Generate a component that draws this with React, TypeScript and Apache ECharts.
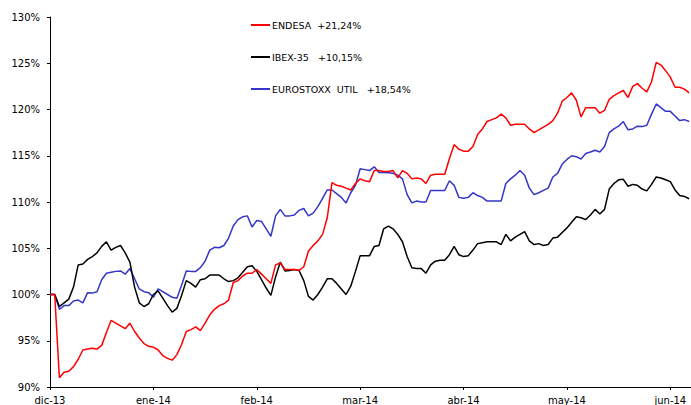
import React, { useEffect, useRef } from "react";
import * as echarts from "echarts";

const monthLabels = ["dic-13", "ene-14", "feb-14", "mar-14", "abr-14", "may-14", "jun-14"];
const daysPerMonth = 22;

const seriesNames = ["ENDESA\u00A0\u00A0+21,24%", "IBEX-35\u00A0\u00A0\u00A0+10,15%", "EUROSTOXX\u00A0\u00A0UTIL\u00A0\u00A0\u00A0+18,54%"];
const seriesColors = ["#FF0000", "#000000", "#3535C8"];

const endesa = [
  100, 100, 91.0, 91.6, 91.7, 92.2, 93.0, 94.0, 94.1, 94.2,
  94.1, 94.5, 95.9, 97.2, 96.9, 96.6, 96.3, 96.9, 96.0, 95.3,
  94.7, 94.4, 94.3, 94.0, 93.4, 93.1, 92.9, 93.5, 94.6, 96.0,
  96.2, 96.5, 96.1, 96.9, 97.8, 98.4, 98.8, 99.0, 99.4, 101.3,
  101.5, 102.0, 102.3, 102.3, 102.7, 102.2, 101.7, 101.2, 103.2, 103.4,
  102.7, 102.7, 102.7, 102.6, 103.0, 104.7, 105.3, 105.8, 106.5, 108.3,
  112.1, 111.8, 111.7, 111.5, 111.3, 112.0, 112.5, 112.3, 112.2, 113.4,
  113.4, 113.3, 113.3, 113.4, 112.6, 113.4, 113.1, 112.5, 112.6, 112.5,
  112.0, 112.9, 113.0, 113.0, 113.0, 114.7, 116.2, 115.7, 115.5, 115.5,
  116.0, 117.3, 117.9, 118.7, 118.9, 119.1, 119.5, 119.1, 118.3, 118.4,
  118.4, 118.4, 117.9, 117.5, 117.8, 118.1, 118.4, 118.8, 119.6, 120.9,
  121.3, 121.8, 121.0, 119.2, 120.2, 120.2, 120.2, 119.6, 119.9, 121.1,
  121.5, 121.8, 122.05, 121.3, 122.5, 122.8, 122.3, 121.9, 123.0, 125.1,
  124.8, 124.2, 123.5, 122.4, 122.4, 122.2, 121.8,
];

const ibex = [
  100, 100, 98.7, 99.1, 99.5, 100.8, 103.2, 103.3, 103.8, 104.1,
  104.5, 105.2, 105.7, 104.8, 105.1, 105.3, 104.5, 103.5, 100.8, 99.1,
  98.7, 99.0, 100.0, 100.4, 99.6, 98.8, 98.1, 98.5, 99.9, 101.5,
  101.2, 100.8, 101.6, 101.7, 102.1, 102.1, 102.1, 101.7, 101.4, 101.5,
  101.8, 102.4, 103.0, 103.1, 102.5, 101.6, 100.7, 99.9, 101.9, 103.5,
  102.55, 102.6, 102.7, 102.6, 101.5, 99.8, 99.4, 100.0, 100.8, 101.7,
  101.7, 101.2, 100.6, 100.0, 100.9, 102.5, 104.2, 104.2, 104.2, 105.2,
  105.3, 107.1, 107.4, 107.1, 106.5, 105.7, 104.1, 102.9, 102.8, 102.8,
  102.3, 103.2, 103.6, 103.7, 103.7, 104.3, 105.2, 104.3, 104.1, 104.2,
  104.8, 105.5, 105.6, 105.7, 105.7, 105.7, 105.4, 106.5, 105.8, 106.2,
  106.5, 106.8, 105.8, 105.4, 105.5, 105.3, 105.4, 106.1, 106.2, 106.7,
  107.2, 107.8, 108.4, 108.3, 108.1, 108.6, 109.2, 108.7, 109.2, 111.4,
  112.0, 112.4, 112.45, 111.7, 111.9, 111.8, 111.4, 111.2, 111.9, 112.7,
  112.6, 112.4, 112.2, 111.3, 110.7, 110.6, 110.35,
];

const eurostoxx = [
  100, 100, 98.4, 98.8, 98.8, 99.3, 99.4, 99.1, 100.2, 100.15,
  100.3, 101.6, 102.3, 102.4, 102.5, 102.55, 102.2, 102.8, 101.7, 100.6,
  100.3, 100.2, 99.7, 100.6, 100.3, 100.0, 99.7, 99.6, 101.0, 102.55,
  102.5, 102.5, 102.9, 103.6, 104.8, 105.1, 105.05, 105.3, 106.1, 107.4,
  108.1, 108.4, 108.5, 107.3, 108.0, 107.9, 107.1, 106.3, 108.5, 109.2,
  108.5, 108.5, 108.6, 109.1, 109.3, 108.5, 108.8, 109.5, 110.4, 111.3,
  111.3, 110.9, 110.5, 109.9, 111.0, 111.8, 113.6, 113.5, 113.4, 113.8,
  113.2, 113.2, 113.15, 113.1, 112.9, 112.5, 110.8, 109.9, 110.1, 110.0,
  110.0, 111.25, 111.25, 111.25, 111.25, 112.3, 111.8, 110.5, 110.4, 110.5,
  111.0, 110.7, 110.5, 110.1, 110.1, 110.1, 110.1, 112.0, 112.5, 112.9,
  113.4, 112.9, 111.5, 110.8, 111.0, 111.25, 111.5, 112.7, 113.1, 114.1,
  114.6, 115.0, 114.9, 114.65, 115.25, 115.4, 115.6, 115.4, 116.0, 117.5,
  117.9, 118.2, 118.7, 117.8, 117.9, 118.2, 118.15, 118.3, 119.5, 120.6,
  120.2, 119.8, 119.8, 119.3, 118.8, 118.9, 118.7,
];

const allSeries = [endesa, ibex, eurostoxx];

export default function App() {
  const ref = useRef<HTMLDivElement>(null);

  useEffect(() => {
    if (!ref.current) return;
    const chart = echarts.init(ref.current, null, { renderer: "svg" });
    const font = "DejaVu Sans";

    const legendGraphics: any[] = [];
    const legendTop = [25, 57, 89];
    seriesNames.forEach((name, i) => {
      legendGraphics.push({
        type: "line",
        shape: { x1: 251, y1: legendTop[i], x2: 270, y2: legendTop[i] },
        style: { stroke: seriesColors[i], lineWidth: 2 },
      });
      legendGraphics.push({
        type: "text",
        x: 272,
        y: legendTop[i],
        style: {
          text: name,
          fill: "#000",
          fontSize: 9.5,
          fontFamily: font,
          verticalAlign: "middle",
        },
      });
    });

    chart.setOption({
      animation: false,
      backgroundColor: "#fff",
      grid: { left: 50, top: 17, right: 0, bottom: 17, containLabel: false },
      xAxis: {
        type: "value",
        min: 0,
        max: 136.4,
        interval: daysPerMonth,
        axisLine: { show: true, lineStyle: { color: "#000", width: 1 } },
        axisTick: { show: true, length: 3, lineStyle: { color: "#000" } },
        splitLine: { show: false },
        axisLabel: {
          color: "#000",
          fontFamily: font,
          fontSize: 10,
          margin: 8,
          showMaxLabel: false,
          formatter: (v: number) => {
            const k = v / daysPerMonth;
            return Number.isInteger(k) && monthLabels[k] ? monthLabels[k] : "";
          },
        },
      },
      yAxis: {
        type: "value",
        min: 90,
        max: 130,
        interval: 5,
        axisLine: { show: true, lineStyle: { color: "#000", width: 1 } },
        axisTick: { show: true, length: 3, lineStyle: { color: "#000" } },
        splitLine: { show: false },
        axisLabel: {
          color: "#000",
          fontFamily: font,
          fontSize: 10,
          margin: 10,
          formatter: (v: number) => `${v}%`,
        },
      },
      graphic: legendGraphics,
      series: allSeries.map((arr, i) => ({
        name: seriesNames[i],
        type: "line",
        data: arr.map((v, idx) => [idx, v]),
        symbol: "none",
        lineStyle: { color: seriesColors[i], width: 1.5 },
        itemStyle: { color: seriesColors[i] },
        z: 3 - i,
      })),
    });

    return () => chart.dispose();
  }, []);

  return (
    <div
      ref={ref}
      style={{ position: "absolute", left: 0, top: 0, width: 691, height: 405 }}
    />
  );
}
